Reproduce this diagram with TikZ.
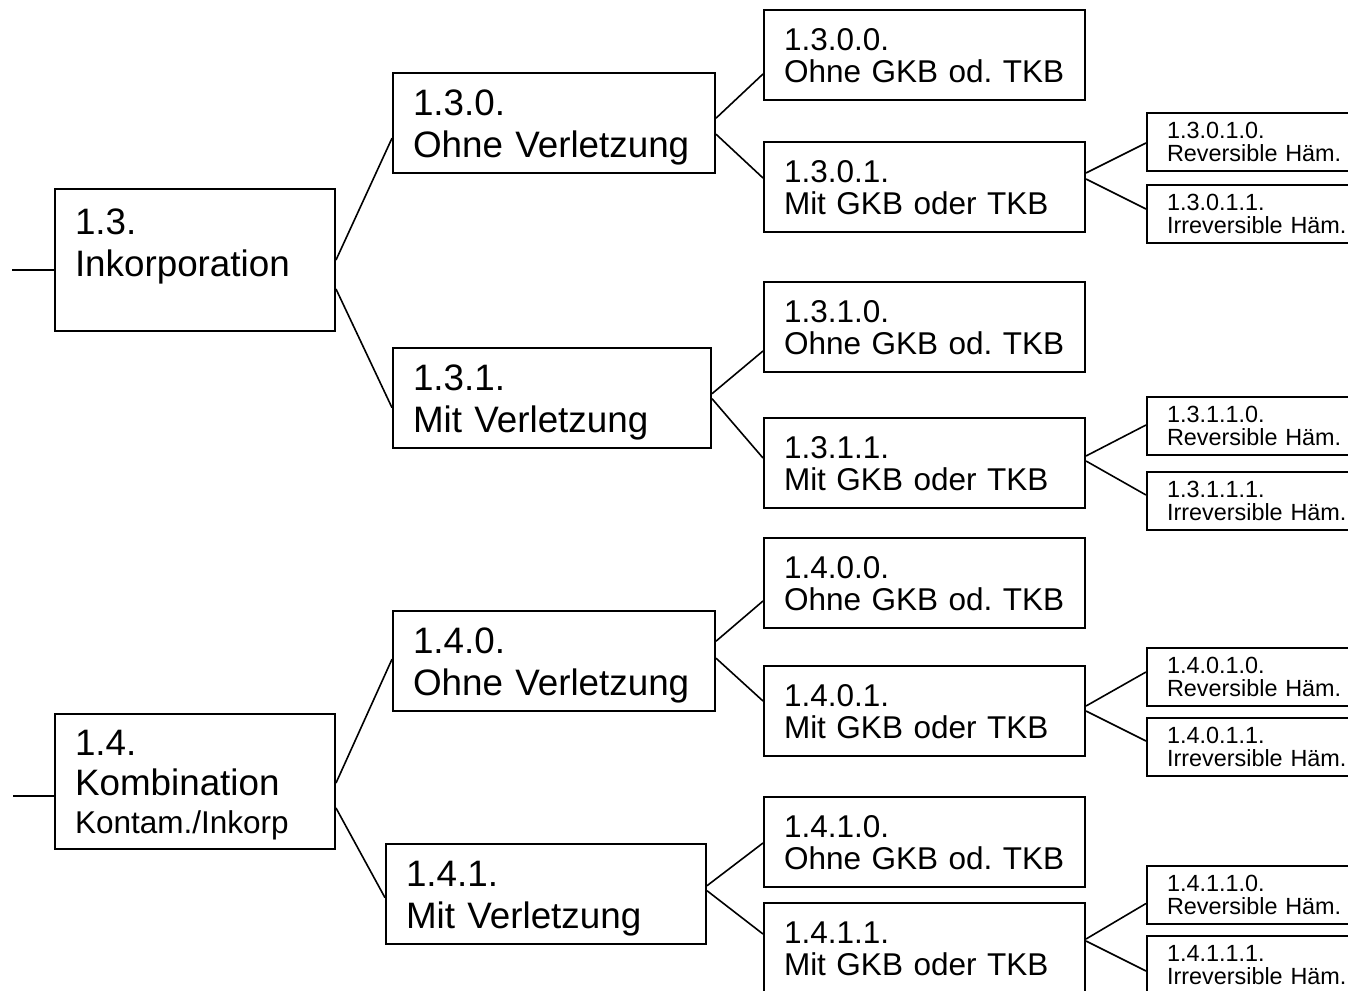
\documentclass[tikz,border=0pt]{standalone}
\usepackage{fontspec}
\setmainfont{Liberation Sans}
\usepackage{tikz}
\frenchspacing

\newcommand\bigtxt{\fontsize{18.4}{21}\selectfont}
\newcommand\midtxt{\fontsize{15.75}{16.2}\selectfont}
\newcommand\smalltxt{\fontsize{11.7}{11.35}\selectfont}

\tikzset{
  box/.style={draw,line width=1pt,anchor=north west,align=left,inner xsep=10pt,inner ysep=0pt},
  rootbox/.style 2 args={box,font=\bigtxt,text width=120pt,text height=#1,text depth=#2},
  midbox/.style={box,font=\bigtxt,text width=#1,text height=21.2pt,text depth=29pt},
  leafbox/.style={box,font=\midtxt,text width=140.5pt,text height=20.2pt,text depth=24.8pt},
  tinybox/.style={box,font=\smalltxt,text width=95pt,text height=12.9pt,text depth=16.1pt},
  link/.style={line width=0.8pt}
}

\begin{document}
\begin{tikzpicture}[x=0.5pt,y=-0.5pt]
  \useasboundingbox (0,0) rectangle (1348,990);
  \clip (0,0) rectangle (1348,990);

  % first level
  \node[rootbox={22.7pt}{48.3pt}] (r13) at (54,188) {1.3.\\Inkorporation};
  \node[rootbox={20.7pt}{46.8pt}] (r14) at (54,713) {1.4.\\[-1pt]Kombination\\[-2pt]{\midtxt Kontam./Inkorp}};
  \coordinate (in13) at (12,270);
  \coordinate (in14) at (13,796);

  % second level
  \node[midbox=141pt] (n130) at (392,72) {1.3.0.\\Ohne Verletzung};
  \node[midbox=139pt] (n131) at (392,347) {1.3.1.\\Mit Verletzung};
  \node[midbox=141pt] (n140) at (392,610) {1.4.0.\\Ohne Verletzung};
  \node[midbox=140pt] (n141) at (385,843) {1.4.1.\\Mit Verletzung};

  % third level
  \node[leafbox] (n1300) at (763,9) {1.3.0.0.\\Ohne GKB od. TKB};
  \node[leafbox] (n1301) at (763,141) {1.3.0.1.\\Mit GKB oder TKB};
  \node[leafbox] (n1310) at (763,281) {1.3.1.0.\\Ohne GKB od. TKB};
  \node[leafbox] (n1311) at (763,417) {1.3.1.1.\\Mit GKB oder TKB};
  \node[leafbox] (n1400) at (763,537) {1.4.0.0.\\Ohne GKB od. TKB};
  \node[leafbox] (n1401) at (763,665) {1.4.0.1.\\Mit GKB oder TKB};
  \node[leafbox] (n1410) at (763,796) {1.4.1.0.\\Ohne GKB od. TKB};
  \node[leafbox] (n1411) at (763,902) {1.4.1.1.\\Mit GKB oder TKB};

  % fourth level
  \node[tinybox] (n13010) at (1146,112) {1.3.0.1.0.\\Reversible Häm.};
  \node[tinybox] (n13011) at (1146,184) {1.3.0.1.1.\\Irreversible Häm.};
  \node[tinybox] (n13110) at (1146,396) {1.3.1.1.0.\\Reversible Häm.};
  \node[tinybox] (n13111) at (1146,471) {1.3.1.1.1.\\Irreversible Häm.};
  \node[tinybox] (n14010) at (1146,647) {1.4.0.1.0.\\Reversible Häm.};
  \node[tinybox] (n14011) at (1146,717) {1.4.0.1.1.\\Irreversible Häm.};
  \node[tinybox] (n14110) at (1146,865) {1.4.1.1.0.\\Reversible Häm.};
  \node[tinybox] (n14111) at (1146,935) {1.4.1.1.1.\\Irreversible Häm.};

  \path[link]
    (in13) edge (in13 -| r13.west)
    (in14) edge (in14 -| r14.west)
    (r13.east) edge ([yshift=-7.5pt]n130.west)
    ([yshift=-14.5pt]r13.east) edge ([yshift=-4.75pt]n131.west)
    ([yshift=-0.75pt]r14.east) edge ([yshift=1pt]n140.west)
    ([yshift=-13.25pt]r14.east) edge ([yshift=-1.75pt]n141.west)
    ([yshift=2.5pt]n130.east) edge ([yshift=-9.5pt]n1300.west)
    ([yshift=-5.5pt]n130.east) edge ([yshift=4.5pt]n1301.west)
    ([yshift=2.25pt]n131.east) edge ([yshift=-12pt]n1310.west)
    ([yshift=-0.25pt]n131.east) edge ([yshift=2.5pt]n1311.west)
    ([yshift=10pt]n140.east) edge ([yshift=-9pt]n1400.west)
    ([yshift=1.5pt]n140.east) edge ([yshift=5pt]n1401.west)
    ([yshift=4.25pt]n141.east) edge ([yshift=-0.5pt]n1410.west)
    ([yshift=1.75pt]n141.east) edge ([yshift=7pt]n1411.west)
    ([yshift=7pt]n1301.east) edge ([yshift=-0.5pt]n13010.west)
    ([yshift=4pt]n1301.east) edge ([yshift=2.5pt]n13011.west)
    ([yshift=3.5pt]n1311.east) edge ([yshift=0.5pt]n13110.west)
    ([yshift=1pt]n1311.east) edge ([yshift=3pt]n13111.west)
    ([yshift=2.5pt]n1401.east) edge ([yshift=2.5pt]n14010.west)
    (n1401.east) edge ([yshift=3pt]n14011.west)
    ([yshift=4.5pt]n1411.east) edge ([yshift=-4.25pt]n14110.west)
    ([yshift=3.5pt]n1411.east) edge ([yshift=-3pt]n14111.west);
\end{tikzpicture}
\end{document}
